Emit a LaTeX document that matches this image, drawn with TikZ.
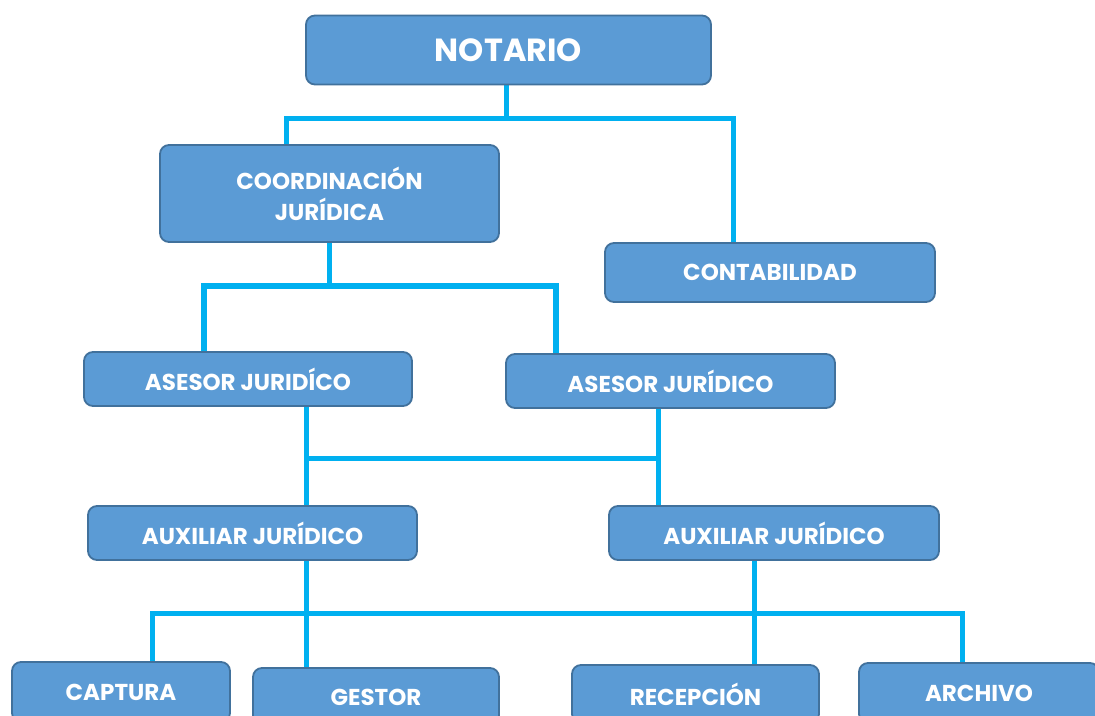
\documentclass[tikz,border=0pt]{standalone}
\usepackage{fontspec}
\setmainfont{Poppins}
\usetikzlibrary{backgrounds}
\definecolor{boxfill}{HTML}{5B9BD5}
\definecolor{boxline}{HTML}{41719C}
\definecolor{conncol}{HTML}{00B0F0}
\tikzset{
  orgbox/.style={draw=boxline, line width=1.8pt, fill=boxfill, rounded corners=9pt,
    text=white, font=\bfseries\fontsize{23}{26}\selectfont, align=center, inner sep=0pt},
  conn/.style={draw=conncol, line width=5pt}
}
\begin{document}
\begin{tikzpicture}[x=1pt,y=-1pt]
\path[use as bounding box, clip] (0,0) rectangle (1095,715);
% boxes
\node[orgbox, minimum width=405pt, minimum height=69pt, font=\bfseries\fontsize{32}{36}\selectfont] (notario) at (508.5,50) {NOTARIO};
\node[orgbox, minimum width=339pt, minimum height=97pt, font=\bfseries\fontsize{23}{31}\selectfont] (coord) at (329.5,193.5) {COORDINACIÓN\\JURÍDICA};
\node[orgbox, minimum width=330pt, minimum height=59pt] (contab) at (770,272.5) {CONTABILIDAD};
\node[orgbox, minimum width=328pt, minimum height=54pt] (asesorL) at (248,379) {ASESOR JURIDÍCO};
\node[orgbox, minimum width=329pt, minimum height=54pt] (asesorR) at (670.5,381) {ASESOR JURÍDICO};
\node[orgbox, minimum width=329pt, minimum height=54pt] (auxL) at (252.5,533) {AUXILIAR JURÍDICO};
\node[orgbox, minimum width=330pt, minimum height=54pt] (auxR) at (774,533) {AUXILIAR JURÍDICO};
\node[orgbox, minimum width=218pt, minimum height=60pt] (captura) at (121,692) {CAPTURA};
\node[orgbox, minimum width=246pt, minimum height=58pt] (gestor) at (376,697) {GESTOR};
\node[orgbox, minimum width=247pt, minimum height=58pt] (recep) at (695.5,694) {RECEPCIÓN};
\node[orgbox, minimum width=240pt, minimum height=60pt] (archivo) at (979,693) {ARCHIVO};
% connectors
\coordinate (j1) at (506,118);
\coordinate (j2) at (329,286);
\coordinate (j3) at (306,458);
\coordinate (j4) at (306,613);
\begin{scope}[on background layer]
\fill[white] (0,0) rectangle (1095,715);
\draw[conn] (notario.south -| j1) -- (j1);
\draw[conn] (coord.north -| 286,0) -- (286,118) -- (733,118) -- (contab.north -| 733,0);
\draw[conn] (coord.south -| j2) -- (j2);
\draw[conn, line width=6.5pt] (asesorL.north -| 204,0) -- (204,286) -- (556,286) -- (asesorR.north -| 556,0);
\draw[conn] (asesorL.south -| j3) -- (auxL.north -| j3);
\draw[conn] (j3) -- (658,458);
\draw[conn] (asesorR.south -| 658,0) -- (auxR.north -| 658,0);
\draw[conn] (auxL.south -| j4) -- (gestor.north -| j4);
\draw[conn] (captura.north -| 152,0) -- (152,613) -- (962,613) -- (archivo.north -| 962,0);
\draw[conn] (auxR.south -| 754,0) -- (recep.north -| 754,0);
\end{scope}
\end{tikzpicture}
\end{document}
